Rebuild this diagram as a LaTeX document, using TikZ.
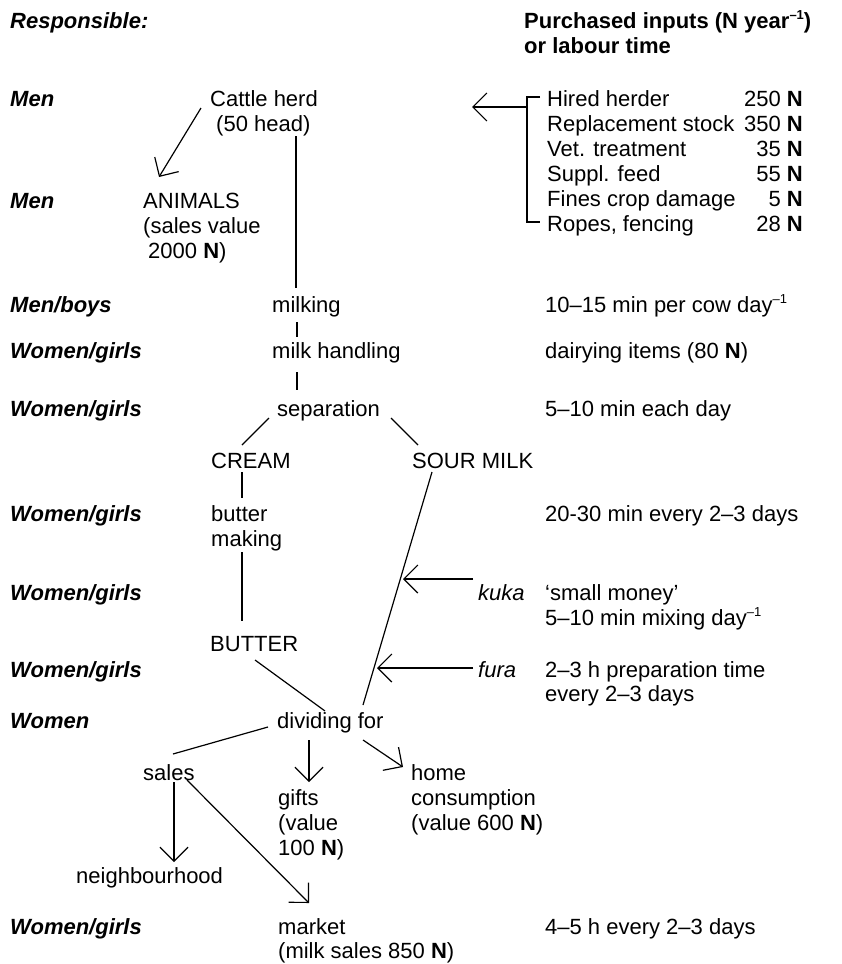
\documentclass[tikz,border=0pt]{standalone}
\usepackage{fontspec}
\setmainfont{Liberation Sans}
\usetikzlibrary{arrows.meta}
\newcommand{\Nb}{\textbf{N}}
\newcommand{\supm}[1]{\raisebox{0.75ex}{\fontsize{13}{13}\selectfont #1}}
\begin{document}
\begin{tikzpicture}[x=1pt,y=-1pt,
  every node/.style={inner sep=0pt, anchor=base west, font=\fontsize{22}{25}\selectfont},
  resp/.style={font=\fontsize{22}{25}\selectfont\bfseries\itshape},
  head/.style={font=\fontsize{22}{25}\selectfont\bfseries},
  num/.style={anchor=base east},
  ln/.style={line width=1.2pt},
  arr/.style={line width=1.2pt, -{Straight Barb[length=14pt,width=28pt]}}]
\fill[white] (0,0) rectangle (841,964);
\useasboundingbox (0,0) rectangle (841,964);

% headers
\node[resp] (hresp) at (10,28) {Responsible:};
\node[head] (hpur) at (524,28) {Purchased inputs (N year\supm{–1})};
\node[head] (hlab) at (524,53) {or labour time};

% responsible column
\node[resp] (r1) at (10,106) {Men};
\node[resp] (r2) at (10,208) {Men};
\node[resp] (r3) at (10,312) {Men/boys};
\node[resp] (r4) at (10,358) {Women/girls};
\node[resp] (r5) at (10,416) {Women/girls};
\node[resp] (r6) at (10,521) {Women/girls};
\node[resp] (r7) at (10,600) {Women/girls};
\node[resp] (r8) at (10,677) {Women/girls};
\node[resp] (r9) at (10,728) {Women};
\node[resp] (r10) at (10,934) {Women/girls};

% central flow
\node (cattle) at (210,106) {Cattle herd};
\node (cattleb) at (216,131) {(50 head)};
\node (animals) at (143,208) {ANIMALS};
\node (animalsb) at (143,233) {(sales value};
\node (animalsc) at (148,258) {2000 \Nb)};
\node (milking) at (272,312) {milking};
\node (handling) at (272,358) {milk handling};
\node (separation) at (277,416) {separation};
\node (cream) at (211,468) {CREAM};
\node (sour) at (412,468) {SOUR MILK};
\node (buttermk) at (211,521) {butter};
\node (making) at (211,546) {making};
\node (butter) at (210,651) {BUTTER};
\node (dividing) at (277,728) {dividing for};
\node (sales) at (143,780) {sales};
\node (gifts) at (278,805) {gifts};
\node (giftsb) at (278,830) {(value};
\node (giftsc) at (278,855) {100 \Nb)};
\node (home) at (411,780) {home};
\node (homeb) at (411,805) {consumption};
\node (homec) at (411,830) {(value 600 \Nb)};
\node (neigh) at (76,883) {neighbourhood};
\node (market) at (278,934) {market};
\node (marketb) at (278,958) {(milk sales 850 \Nb)};

% purchased inputs list
\node (p1) at (547,106) {Hired herder};
\node (p2) at (547,131) {Replacement stock};
\node (p3) at (547,156) {Vet. treatment};
\node (p4) at (547,181) {Suppl. feed};
\node (p5) at (547,206) {Fines crop damage};
\node (p6) at (547,231) {Ropes, fencing};
\node[num] (n1) at (803,106) {250 \Nb};
\node[num] (n2) at (803,131) {350 \Nb};
\node[num] (n3) at (803,156) {35 \Nb};
\node[num] (n4) at (803,181) {55 \Nb};
\node[num] (n5) at (803,206) {5 \Nb};
\node[num] (n6) at (803,231) {28 \Nb};

% labour column
\node (t1) at (545,312) {10–15 min per cow day\supm{–1}};
\node (t2) at (545,358) {dairying items (80 \Nb)};
\node (t3) at (545,416) {5–10 min each day};
\node (t4) at (545,521) {20-30 min every 2–3 days};
\node (kuka) at (478,600) {\itshape kuka};
\node (t5) at (545,600) {‘small money’};
\node (t5b) at (545,625) {5–10 min mixing day\supm{–1}};
\node (fura) at (478,677) {\itshape fura};
\node (t6) at (545,677) {2–3 h preparation time};
\node (t6b) at (545,701) {every 2–3 days};
\node (t7) at (545,934) {4–5 h every 2–3 days};

% connector end points
\coordinate (cA) at (201,108);  \coordinate (cB) at (159,177);
\coordinate (v1a) at (296,136); \coordinate (v1b) at (296,288);
\coordinate (v2a) at (297,322); \coordinate (v2b) at (297,337);
\coordinate (v3a) at (297,372); \coordinate (v3b) at (297,390);
\coordinate (sLa) at (269,418); \coordinate (sLb) at (242,445);
\coordinate (sRa) at (391,418); \coordinate (sRb) at (418,445);
\coordinate (cv1) at (242,472); \coordinate (cv2) at (242,498);
\coordinate (mv1) at (242,552); \coordinate (mv2) at (242,621);
\coordinate (bd1) at (255,660); \coordinate (bd2) at (325,711);
\coordinate (sd1) at (432,472); \coordinate (sd2) at (363,705);
\coordinate (ka) at (473,579);  \coordinate (kb) at (403,579);
\coordinate (fa) at (473,668);  \coordinate (fb) at (377,668);
\coordinate (ds1) at (268,727); \coordinate (ds2) at (173,754);
\coordinate (dg1) at (309,740); \coordinate (dg2) at (309,782);
\coordinate (dh1) at (363,740); \coordinate (dh2) at (403,767);
\coordinate (sn1) at (174,782); \coordinate (sn2) at (174,862);
\coordinate (sm1) at (187,780); \coordinate (sm2) at (309,903);
\coordinate (brT) at (540,97);  \coordinate (brTc) at (527,97);
\coordinate (brB) at (540,222); \coordinate (brBc) at (527,222);
\coordinate (brA) at (527,107); \coordinate (brTip) at (472,107);

% connectors
\draw[arr] (cA) -- (cB);
\draw[ln] (v1a) -- (v1b);
\draw[ln] (v2a) -- (v2b);
\draw[ln] (v3a) -- (v3b);
\draw[ln] (sLa) -- (sLb);
\draw[ln] (sRa) -- (sRb);
\draw[ln] (cv1) -- (cv2);
\draw[ln] (mv1) -- (mv2);
\draw[ln] (bd1) -- (bd2);
\draw[ln] (sd1) -- (sd2);
\draw[arr] (ka) -- (kb);
\draw[arr] (fa) -- (fb);
\draw[ln] (ds1) -- (ds2);
\draw[arr] (dg1) -- (dg2);
\draw[arr] (dh1) -- (dh2);
\draw[arr] (sn1) -- (sn2);
\draw[arr] (sm1) -- (sm2);
\draw[ln] (brT) -- (brTc) -- (brBc) -- (brB);
\draw[arr] (brA) -- (brTip);
\end{tikzpicture}
\end{document}
